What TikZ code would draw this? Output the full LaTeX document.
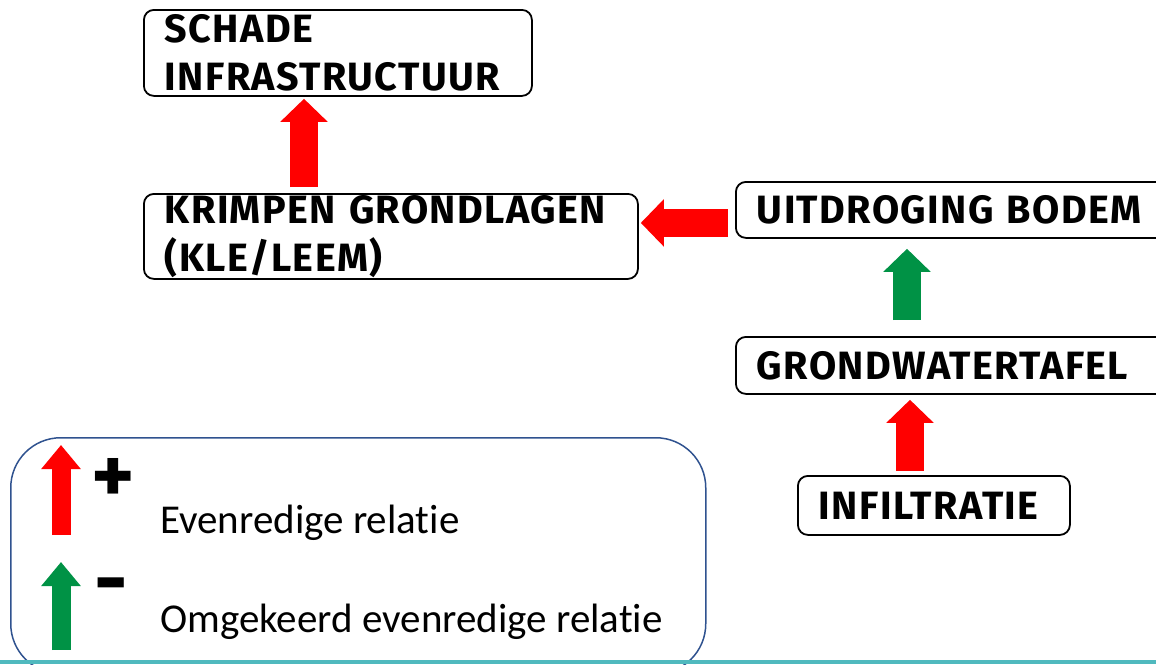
\documentclass[tikz,border=0pt]{standalone}
\usepackage{fontspec}
\setmainfont[Ligatures=NoCommon]{Carlito}
\newfontfamily\headfont[LetterSpace=3.5]{Fira Sans}
\usetikzlibrary{arrows.meta}

\definecolor{relred}{RGB}{255,0,0}
\definecolor{relgreen}{RGB}{0,146,69}
\definecolor{legendblue}{RGB}{47,82,143}
\definecolor{baseteal}{RGB}{80,185,190}

\begin{document}
\begin{tikzpicture}[x=1pt, y=-1pt, line join=round,
    box/.style={draw=black, line width=1.8pt, rounded corners=10pt,
      inner xsep=21pt, inner ysep=0pt, align=left, anchor=north west,
      font=\headfont\bfseries\fontsize{39.5}{48}\selectfont},
    plusrel/.style={line width=28pt, relred, -{Triangle[length=23pt, width=46pt]}},
    minusrel/.style={line width=28pt, relgreen, -{Triangle[length=23pt, width=46pt]}},
    keyplus/.style={line width=19pt, relred, -{Triangle[length=24pt, width=38pt]}},
    keyminus/.style={line width=19pt, relgreen, -{Triangle[length=24pt, width=38pt]}},
    keytext/.style={anchor=west, inner sep=0pt, font=\fontsize{41}{48}\selectfont},
    sign/.style={inner sep=0pt, font=\headfont\bfseries\fontsize{82}{82}\selectfont}]
  \clip (0,0) rectangle (1156,664);
  \node[box, text width=346pt, minimum height=86pt] (schade) at (143,9) {SCHADE\\INFRASTRUCTUUR};
  \node[box, text width=452pt, minimum height=85pt] (krimpen) at (143,193) {KRIMPEN GRONDLAGEN\\(KLE/LEEM)};
  \node[box, text width=420pt, minimum height=56pt] (uitdroging) at (735,181) {UITDROGING BODEM};
  \node[box, text width=420pt, minimum height=57pt] (grondwater) at (735,336) {GRONDWATERTAFEL};
  \node[box, text width=230pt, minimum height=59pt] (infiltratie) at (797,475) {INFILTRATIE};
  \draw[plusrel] ([xshift=161pt, yshift=6pt]krimpen.north west) -- ([xshift=161pt, yshift=-2pt]schade.south west);
  \draw[plusrel] ([xshift=-7pt, yshift=-13pt]uitdroging.west) -- ([xshift=2pt, yshift=13.5pt]krimpen.east);
  \draw[minusrel] ([xshift=172pt, yshift=16pt]grondwater.north west) -- ([xshift=172pt, yshift=-10pt]uitdroging.south west);
  \draw[plusrel] ([xshift=113pt, yshift=4pt]infiltratie.north west) -- ([xshift=175pt, yshift=-5pt]grondwater.south west);
  \node[draw=legendblue, line width=1.5pt, rounded corners=50pt, anchor=north west,
    minimum width=695pt, minimum height=236pt] (legend) at (10,437) {};
  \coordinate (keyA) at (61,535);
  \coordinate (keyB) at (61,650);
  \draw[keyplus] (keyA) -- ++(0,-90);
  \draw[keyminus] (keyB) -- ++(0,-88);
  \node[sign] (plussign) at (113,481) {+};
  \node[sign] (minussign) at (111,593) {-};
  \node[keytext] (evenredig) at (160,523) {Evenredige relatie};
  \node[keytext] (omgekeerd) at (160,622) {Omgekeerd evenredige relatie};
  \fill[baseteal] (0,660) rectangle (1156,664);
\end{tikzpicture}
\end{document}
